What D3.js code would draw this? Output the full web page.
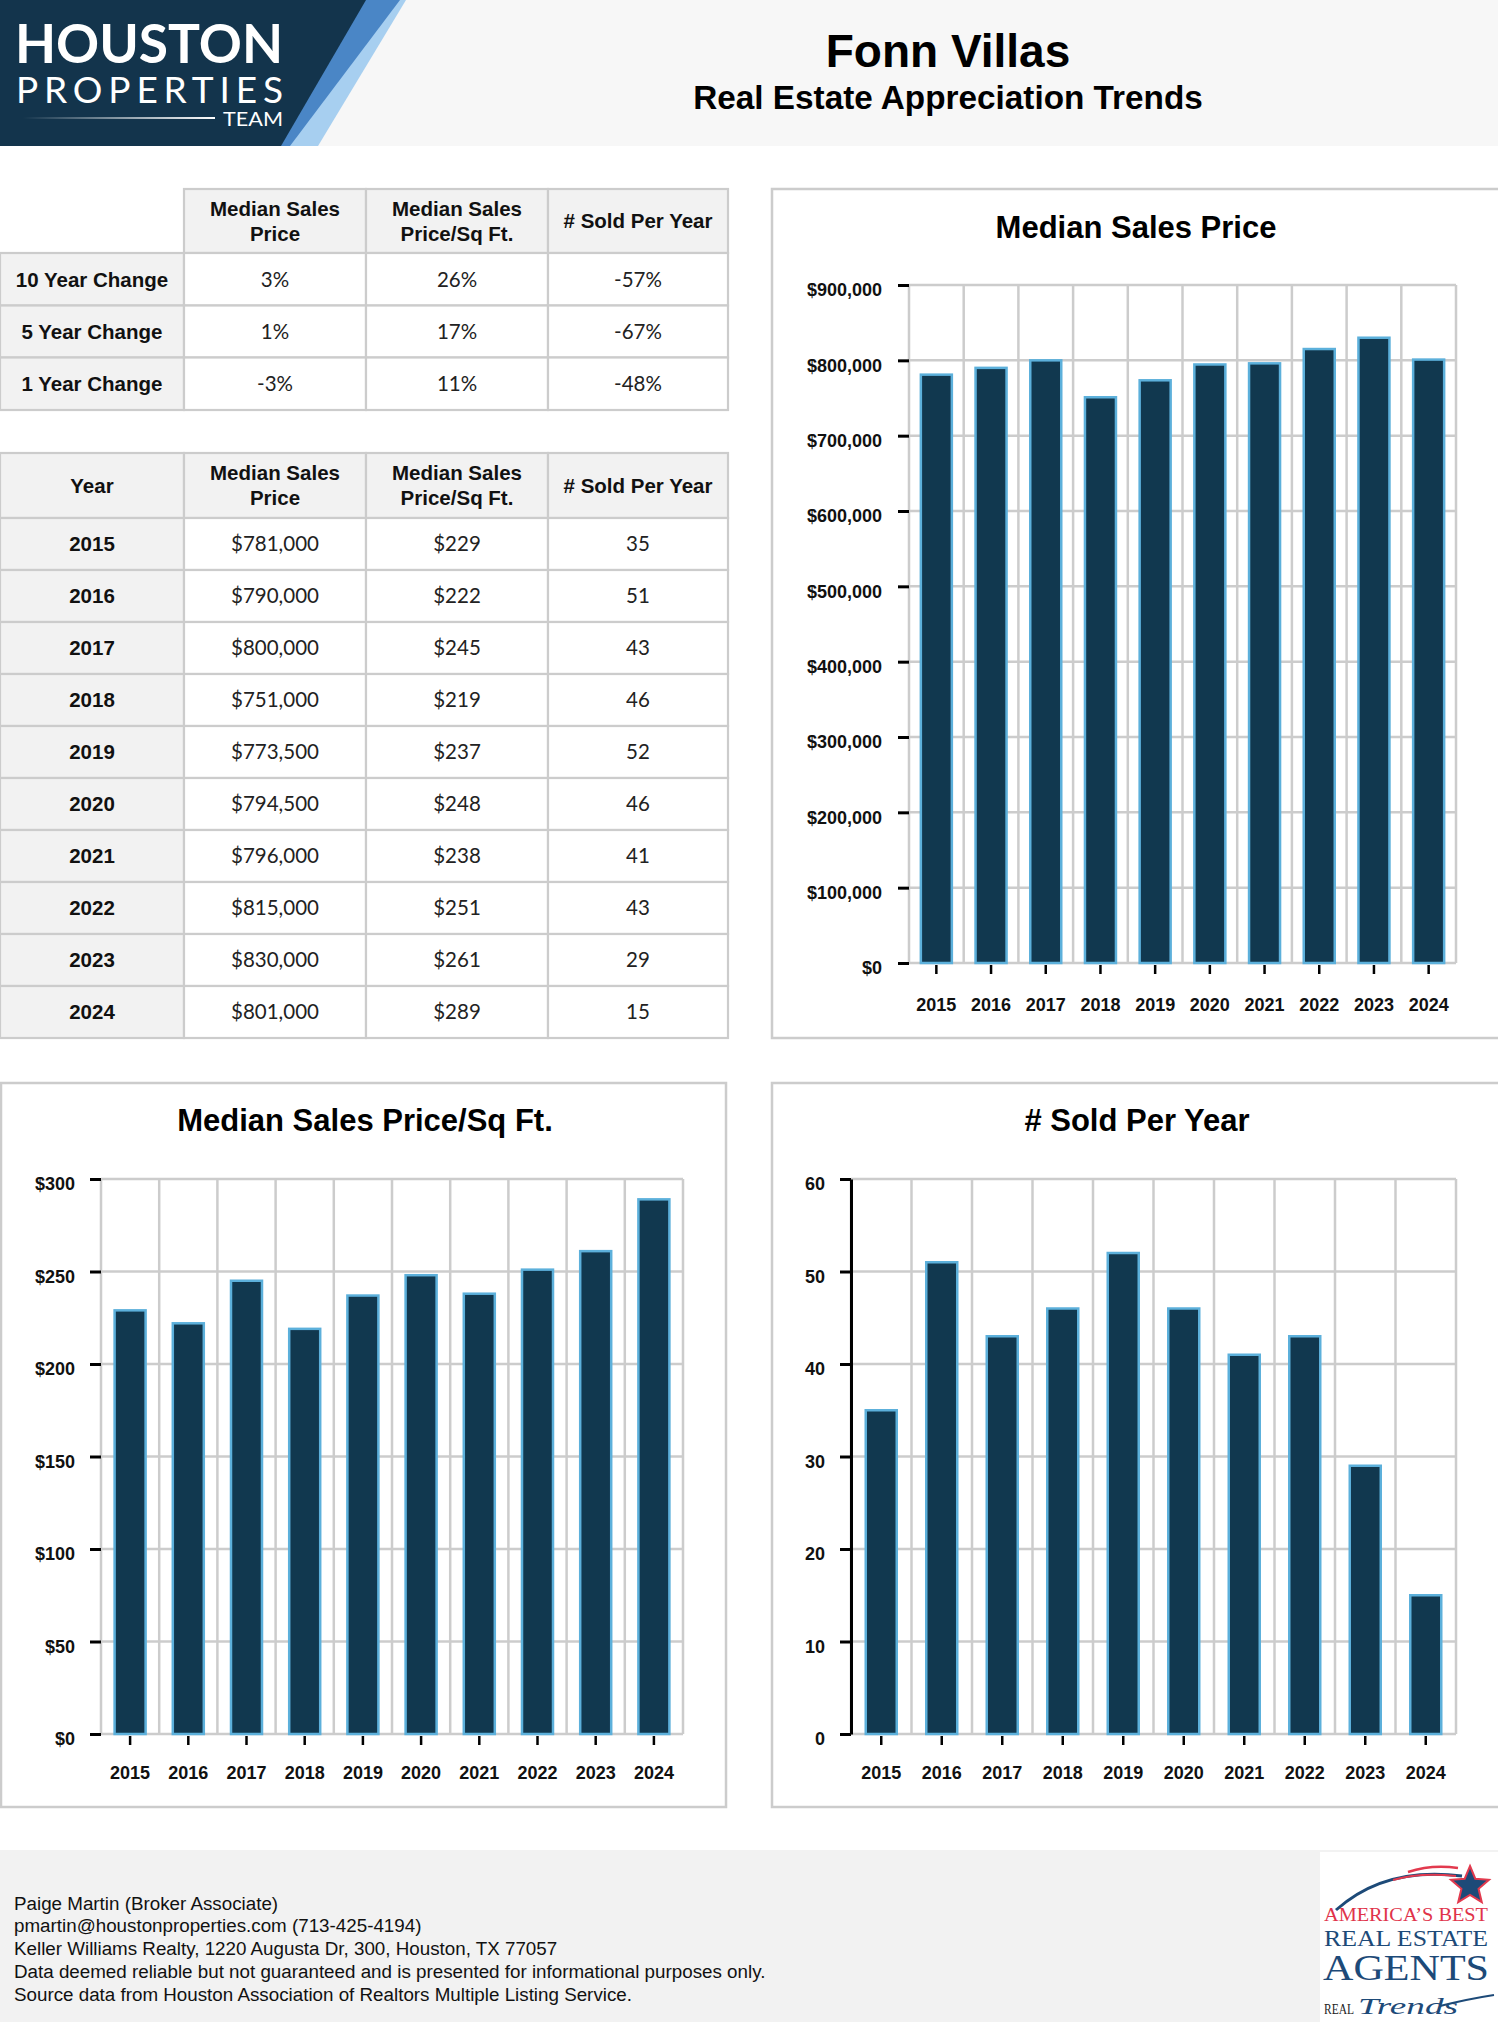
<!DOCTYPE html>
<html><head><meta charset="utf-8">
<script src="https://cdn.jsdelivr.net/npm/d3@7"></script>
<style>
html,body{margin:0;padding:0;background:#fff;}
svg{display:block;}
.b{font-family:"Liberation Sans",Arial,sans-serif;font-weight:bold;fill:#111;}
.v{font-family:Lato,"Liberation Sans",sans-serif;fill:#222;}
</style></head><body>
<svg id="page" width="1498" height="2022"></svg>
<script>
// ---------- data ----------
const years = [2015, 2016, 2017, 2018, 2019, 2020, 2021, 2022, 2023, 2024];
const medianPrice = [781000, 790000, 800000, 751000, 773500, 794500, 796000, 815000, 830000, 801000];
const pricePerSqFt = [229, 222, 245, 219, 237, 248, 238, 251, 261, 289];
const soldPerYear = [35, 51, 43, 46, 52, 46, 41, 43, 29, 15];
const changeLabels = ["10 Year Change", "5 Year Change", "1 Year Change"];
const changePrice = ["3%", "1%", "-3%"];
const changePpsf = ["26%", "17%", "11%"];
const changeSold = ["-57%", "-67%", "-48%"];
const colHeaders = [["Median Sales", "Price"], ["Median Sales", "Price/Sq Ft."], ["# Sold Per Year"]];
const priceTicks = [0, 100000, 200000, 300000, 400000, 500000, 600000, 700000, 800000, 900000];
const ppsfTicks = [0, 50, 100, 150, 200, 250, 300];
const soldTicks = [0, 10, 20, 30, 40, 50, 60];
const footerLines = [
  "Paige Martin (Broker Associate)",
  "pmartin@houstonproperties.com (713-425-4194)",
  "Keller Williams Realty, 1220 Augusta Dr, 300, Houston, TX 77057",
  "Data deemed reliable but not guaranteed and is presented for informational purposes only.",
  "Source data from Houston Association of Realtors Multiple Listing Service."
];

const svg = d3.select("#page");
const GRID = "#cccccc";

// ---------- header ----------
svg.append("rect").attr("x", 0).attr("y", 0).attr("width", 1498).attr("height", 146).attr("fill", "#f7f7f7");
const logo = svg.append("g");
logo.append("polygon").attr("points", "398,0 406,0 318,146 284,146").attr("fill", "#a7cff0");
logo.append("polygon").attr("points", "360,0 400,0 290,146 280,146").attr("fill", "#4a86c6");
logo.append("polygon").attr("points", "0,0 366,0 281,146 0,146").attr("fill", "#13344c");
const lg = svg.append("defs").append("linearGradient").attr("id", "lineg");
lg.append("stop").attr("offset", "0").attr("stop-color", "#fff").attr("stop-opacity", 0);
lg.append("stop").attr("offset", "1").attr("stop-color", "#fff").attr("stop-opacity", 1);
logo.append("text").attr("x", 15).attr("y", 63).attr("textLength", 268).attr("lengthAdjust", "spacingAndGlyphs")
  .style("font-family", "Lato, sans-serif").style("font-weight", 700).style("font-size", "54px").attr("fill", "#fff").text("HOUSTON");
logo.append("text").attr("x", 16).attr("y", 103).attr("textLength", 267).attr("lengthAdjust", "spacing")
  .style("font-family", "Lato, sans-serif").style("font-weight", 400).style("font-size", "37px").attr("fill", "#fff").text("PROPERTIES");
logo.append("text").attr("x", 223).attr("y", 126).attr("textLength", 60).attr("lengthAdjust", "spacingAndGlyphs")
  .style("font-family", "Lato, sans-serif").style("font-weight", 400).style("font-size", "20px").attr("fill", "#fff").text("TEAM");
logo.append("rect").attr("x", 23).attr("y", 117).attr("width", 192).attr("height", 2).attr("fill", "url(#lineg)");

svg.append("text").attr("class", "b").attr("x", 948).attr("y", 67).attr("text-anchor", "middle")
  .style("font-size", "46px").style("fill", "#000").text("Fonn Villas");
svg.append("text").attr("class", "b").attr("x", 948).attr("y", 109).attr("text-anchor", "middle")
  .style("font-size", "33.3px").style("fill", "#000").text("Real Estate Appreciation Trends");

// ---------- tables ----------
const colX = [0, 184, 366, 548, 728];
function cellRect(g, x, y, w, h, fill) {
  g.append("rect").attr("x", x).attr("y", y).attr("width", w).attr("height", h)
    .attr("fill", fill).attr("stroke", GRID).attr("stroke-width", 2.2);
}
function headerCell(g, ci, y0, y1, lines) {
  const cx = (colX[ci] + colX[ci + 1]) / 2, cy = (y0 + y1) / 2;
  lines.forEach((t, k) => {
    const off = lines.length === 1 ? 0 : (k === 0 ? -12.5 : 12.5);
    g.append("text").attr("class", "b").attr("x", cx).attr("y", cy + off).attr("dy", "0.36em")
      .attr("text-anchor", "middle").style("font-size", "20.5px").text(t);
  });
}
function drawTable(rowY, firstHeader, labels, cols) {
  const g = svg.append("g");
  if (firstHeader) {
    cellRect(g, colX[0], rowY[0], colX[1] - colX[0], rowY[1] - rowY[0], "#f2f2f2");
    headerCell(g, 0, rowY[0], rowY[1], [firstHeader]);
  }
  for (let c = 0; c < 3; c++) {
    cellRect(g, colX[c + 1], rowY[0], colX[c + 2] - colX[c + 1], rowY[1] - rowY[0], "#f2f2f2");
    headerCell(g, c + 1, rowY[0], rowY[1], colHeaders[c]);
  }
  labels.forEach((lab, r) => {
    const y0 = rowY[r + 1], y1 = rowY[r + 2];
    cellRect(g, colX[0], y0, colX[1] - colX[0], y1 - y0, "#f2f2f2");
    g.append("text").attr("class", "b").attr("x", (colX[0] + colX[1]) / 2).attr("y", (y0 + y1) / 2).attr("dy", "0.36em")
      .attr("text-anchor", "middle").style("font-size", "20.5px").text(lab);
    cols.forEach((col, c) => {
      cellRect(g, colX[c + 1], y0, colX[c + 2] - colX[c + 1], y1 - y0, "#ffffff");
      g.append("text").attr("class", "v").attr("x", (colX[c + 1] + colX[c + 2]) / 2).attr("y", (y0 + y1) / 2).attr("dy", "0.36em")
        .attr("text-anchor", "middle").style("font-size", "20.5px").text(col[r]);
    });
  });
}
drawTable([189, 253, 305.5, 357.5, 410], null, changeLabels, [changePrice, changePpsf, changeSold]);
const yRows = [453, 518];
for (let i = 1; i <= years.length; i++) yRows.push(518 + i * 52);
const fmtMoney = d3.format("$,");
drawTable(yRows, "Year", years.map(String),
  [medianPrice.map(fmtMoney), pricePerSqFt.map(d => "$" + d), soldPerYear.map(String)]);

// ---------- charts ----------
function drawChart(o) {
  const g = svg.append("g");
  g.append("rect").attr("x", o.px).attr("y", o.py).attr("width", o.pw).attr("height", o.ph)
    .attr("fill", "#fff").attr("stroke", GRID).attr("stroke-width", 2.5);
  g.append("text").attr("class", "b").attr("x", o.tx).attr("y", o.ty).attr("text-anchor", "middle")
    .style("font-size", "31px").style("fill", "#000").text(o.title);
  const pad = 1 - o.barW / ((o.x1 - o.x0) / years.length);
  const x = d3.scaleBand().domain(years).range([o.x0, o.x1]).paddingInner(pad).paddingOuter(pad / 2);
  const y = d3.scaleLinear().domain([0, o.ticks[o.ticks.length - 1]]).range([o.y0, o.y1]);
  const step = x.step();
  g.append("g").selectAll("line").data(o.ticks).join("line")
    .attr("x1", o.x0).attr("x2", o.x1).attr("y1", d => y(d)).attr("y2", d => y(d))
    .attr("stroke", GRID).attr("stroke-width", 2.5);
  g.append("g").selectAll("line").data(d3.range(0, years.length + 1)).join("line")
    .attr("x1", i => o.x0 + i * step).attr("x2", i => o.x0 + i * step)
    .attr("y1", y.range()[1]).attr("y2", y.range()[0])
    .attr("stroke", GRID).attr("stroke-width", 2.5);
  g.append("g").selectAll("rect").data(o.values).join("rect")
    .attr("x", (d, i) => x(years[i])).attr("y", d => y(d))
    .attr("width", x.bandwidth()).attr("height", d => y(0) - y(d))
    .attr("fill", "#11384f").attr("stroke", "#5cb0db").attr("stroke-width", 2.5);
  const ya = g.append("g").attr("transform", `translate(${o.x0},0)`)
    .call(d3.axisLeft(y).tickValues(o.ticks).tickFormat(o.fmt).tickSize(11).tickSizeOuter(0).tickPadding(o.ypad));
  if (o.blackAxis) ya.select(".domain").attr("stroke", "#000").attr("stroke-width", 3);
  else ya.select(".domain").remove();
  ya.selectAll(".tick line").attr("stroke", "#000").attr("stroke-width", 3);
  ya.selectAll(".tick text").attr("class", "b").attr("dy", "0.6em").style("font-size", "18px").attr("fill", "#111");
  ya.attr("font-family", null).attr("font-size", null);
  const xa = g.append("g").attr("transform", `translate(0,${o.y0})`)
    .call(d3.axisBottom(x).tickSize(11).tickPadding(o.xpad));
  xa.select(".domain").remove();
  xa.selectAll(".tick line").attr("stroke", "#000").attr("stroke-width", 2.5).attr("y1", 2);
  xa.selectAll(".tick text").attr("class", "b").style("font-size", "18px").attr("fill", "#111");
  xa.attr("font-family", null).attr("font-size", null);
}

drawChart({ px: 772, py: 189, pw: 740, ph: 849, tx: 1136, ty: 238, title: "Median Sales Price",
  x0: 909, x1: 1456, y0: 963, y1: 285, values: medianPrice, ticks: priceTicks, fmt: d3.format("$,"),
  ypad: 16, xpad: 24, blackAxis: false, barW: 31 });
drawChart({ px: 1, py: 1083, pw: 725, ph: 724, tx: 365, ty: 1131, title: "Median Sales Price/Sq Ft.",
  x0: 101, x1: 683, y0: 1734, y1: 1179, values: pricePerSqFt, ticks: ppsfTicks, fmt: d => "$" + d,
  ypad: 15, xpad: 21, blackAxis: false, barW: 31 });
drawChart({ px: 772, py: 1083, pw: 740, ph: 724, tx: 1137, ty: 1131, title: "# Sold Per Year",
  x0: 851, x1: 1456, y0: 1734, y1: 1179, values: soldPerYear, ticks: soldTicks, fmt: d => String(d),
  ypad: 15, xpad: 21, blackAxis: true, barW: 31 });

// ---------- footer ----------
svg.append("rect").attr("x", 0).attr("y", 1850).attr("width", 1498).attr("height", 172).attr("fill", "#f2f2f2");
svg.append("g").selectAll("text").data(footerLines).join("text")
  .attr("x", 14).attr("y", (d, i) => 1903 + i * 22.8).attr("dy", "0.35em")
  .style("font-family", "'Liberation Sans', Arial, sans-serif").style("font-size", "18.8px").attr("fill", "#111")
  .text(d => d);

// award badge
const bd = svg.append("g");
bd.append("rect").attr("x", 1320).attr("y", 1852).attr("width", 178).attr("height", 170).attr("fill", "#fff");
bd.append("path").attr("d", "M1336,1910 Q1385,1866 1462,1876").attr("fill", "none").attr("stroke", "#1d4a78").attr("stroke-width", 3);
bd.append("path").attr("d", "M1408,1872 Q1432,1864 1458,1868").attr("fill", "none").attr("stroke", "#e23a4e").attr("stroke-width", 2.5);
bd.append("path").attr("d", "M1393,1880 Q1420,1872 1456,1876").attr("fill", "none").attr("stroke", "#e23a4e").attr("stroke-width", 2);
const star = d3.range(10).map(i => {
  const a = -Math.PI / 2 + i * Math.PI / 5, r = i % 2 ? 9 : 20;
  return [1470 + r * Math.cos(a), 1886 + r * Math.sin(a)];
});
bd.append("polygon").attr("points", star.map(p => p.join(",")).join(" ")).attr("fill", "#1d4a78").attr("stroke", "#e23a4e").attr("stroke-width", 2);
const serif = "'Liberation Serif', 'DejaVu Serif', serif";
bd.append("text").attr("x", 1324).attr("y", 1921).attr("textLength", 164).attr("lengthAdjust", "spacingAndGlyphs")
  .style("font-family", serif).style("font-size", "19px").attr("fill", "#e0334a").text("AMERICA’S BEST");
bd.append("text").attr("x", 1324).attr("y", 1946).attr("textLength", 164).attr("lengthAdjust", "spacingAndGlyphs")
  .style("font-family", serif).style("font-size", "24px").attr("fill", "#1d4a78").text("REAL ESTATE");
bd.append("text").attr("x", 1323).attr("y", 1980).attr("textLength", 166).attr("lengthAdjust", "spacingAndGlyphs")
  .style("font-family", serif).style("font-size", "36px").attr("fill", "#1d4a78").text("AGENTS");
bd.append("text").attr("x", 1324).attr("y", 2014).attr("textLength", 30).attr("lengthAdjust", "spacingAndGlyphs")
  .style("font-family", serif).style("font-size", "15px").attr("fill", "#222").text("REAL");
bd.append("text").attr("x", 1358).attr("y", 2014).attr("textLength", 100).attr("lengthAdjust", "spacingAndGlyphs")
  .style("font-family", serif).style("font-style", "italic").style("font-size", "24px").attr("fill", "#1d4a78").text("Trends");
bd.append("path").attr("d", "M1440,2006 Q1468,1999 1494,1995").attr("fill", "none").attr("stroke", "#1d4a78").attr("stroke-width", 2);
</script>
</body></html>
